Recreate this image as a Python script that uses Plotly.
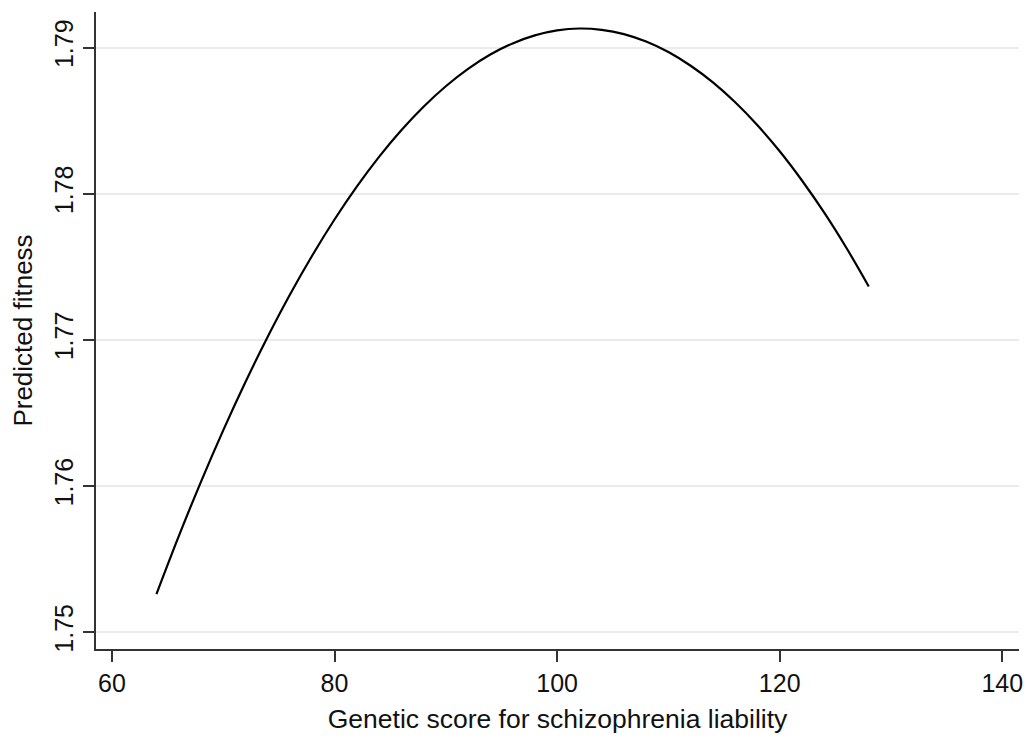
import plotly.graph_objects as go

# Predicted fitness along the genetic score for schizophrenia liability
genetic_score = [64, 66, 68, 70, 72, 74, 76, 78, 80, 82, 84, 86, 88, 90, 92, 94, 96,
                 98, 100, 102, 104, 106, 108, 110, 112, 114, 116, 118, 120, 122,
                 124, 126, 128]
predicted_fitness = [1.75260, 1.75655, 1.76028, 1.76380, 1.76711, 1.77021, 1.77310,
                     1.77577, 1.77823, 1.78048, 1.78252, 1.78434, 1.78595, 1.78735,
                     1.78854, 1.78952, 1.79028, 1.79083, 1.79117, 1.79130, 1.79121,
                     1.79092, 1.79041, 1.78969, 1.78875, 1.78761, 1.78625, 1.78468,
                     1.78290, 1.78090, 1.77870, 1.77628, 1.77365]

x_ticks = [60, 80, 100, 120, 140]
y_ticks = [1.75, 1.76, 1.77, 1.78, 1.79]
y_tick_labels = ["1.75", "1.76", "1.77", "1.78", "1.79"]

FONT = "Liberation Sans, Arial, sans-serif"

fig = go.Figure(
    go.Scatter(
        x=genetic_score,
        y=predicted_fitness,
        mode="lines",
        line=dict(color="black", width=2.2, shape="spline"),
        hoverinfo="skip",
    )
)

fig.update_layout(
    width=1035,
    height=745,
    margin=dict(l=96, r=14, t=12, b=96),
    paper_bgcolor="white",
    plot_bgcolor="white",
    showlegend=False,
    font=dict(family=FONT, size=25, color="#111111"),
)

fig.update_xaxes(
    range=[58.57, 141.5],
    tickvals=x_ticks,
    ticks="outside",
    ticklen=11,
    tickwidth=1.5,
    tickcolor="#333333",
    showline=True,
    linecolor="#333333",
    linewidth=1.5,
    showgrid=False,
    zeroline=False,
    tickfont=dict(size=25),
    title=dict(text="Genetic score for schizophrenia liability",
               font=dict(size=26.5), standoff=14),
)

fig.update_yaxes(
    range=[1.74884, 1.79243],
    tickvals=y_ticks,
    ticktext=y_tick_labels,
    tickangle=-90,
    ticks="outside",
    ticklen=11,
    tickwidth=1.5,
    tickcolor="#333333",
    showline=True,
    linecolor="#333333",
    linewidth=1.5,
    showgrid=True,
    gridcolor="#ebebeb",
    gridwidth=1.5,
    zeroline=False,
    tickfont=dict(size=25),
    title=dict(text="Predicted fitness", font=dict(size=26), standoff=10),
)

fig.write_html("out.html")
